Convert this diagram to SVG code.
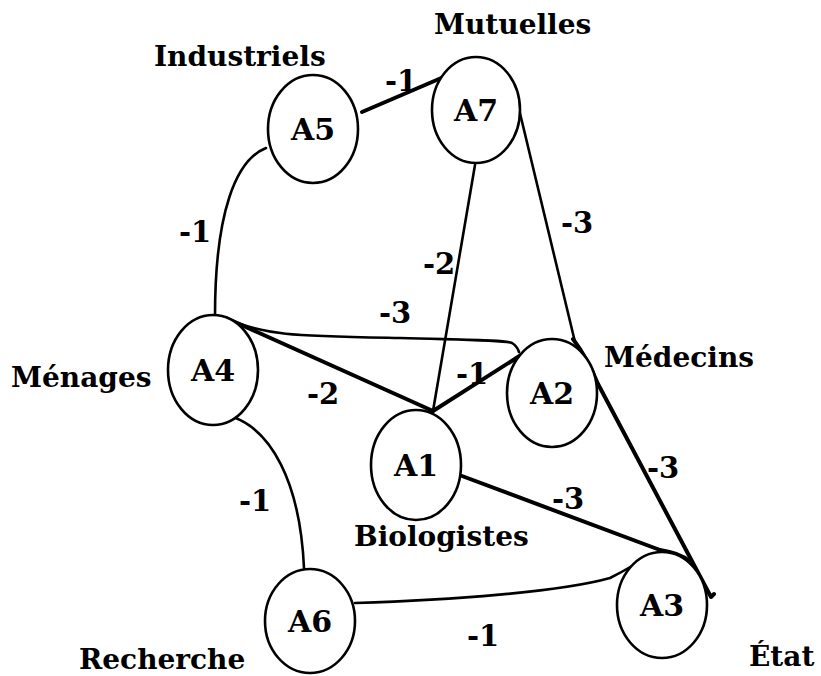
<svg xmlns="http://www.w3.org/2000/svg" width="821" height="676" viewBox="0 0 821 676">
  <style>
    .node ellipse { fill: #fff; stroke: #000; stroke-width: 2.6; }
    .node text, .w { font-family: "DejaVu Serif", "Liberation Serif", serif; font-weight: bold; font-size: 28px; fill: #000; }
    .node text.id { text-anchor: middle; font-size: 30px; }
    .w { font-size: 29px; }
    .edges path { fill: none; stroke: #000; stroke-width: 2.6; stroke-linecap: round; stroke-linejoin: round; }
    .edges path.thick { stroke-width: 4; }
  </style>
  <rect width="821" height="676" fill="#fff"/>

  <!-- connectors -->
  <g id="edges" class="edges">
    <path class="thick" d="M362,112 L446,76"/>
    <path d="M266,148 C236,160 215,212 215,316"/>
    <path d="M475,165 L433,411"/>
    <path d="M518,105 L575,342"/>
    <path d="M226,318 C262,336 300,336 400,338 C470,340 505,340 512,343 Q517,346 519,352"/>
    <path class="thick" d="M226,318 L433,411"/>
    <path class="thick" d="M433,411 L521,355"/>
    <path class="thick" d="M573,339 C585,355 593,372 598,384 L711,597 L714,594"/>
    <path class="thick" d="M462,476 L660,550 Q680,553 689,561"/>
    <path d="M355,603 C450,600 560,592 610,578 Q622,572 632,566"/>
    <path d="M233,417 C270,430 300,480 304,568"/>

    <!-- weights -->
    <text class="w" x="385" y="91">-1</text>
    <text class="w" x="179" y="242">-1</text>
    <text class="w" x="423" y="274">-2</text>
    <text class="w" x="561" y="233">-3</text>
    <text class="w" x="379" y="323">-3</text>
    <text class="w" x="307" y="404">-2</text>
    <text class="w" x="456" y="384">-1</text>
    <text class="w" x="647" y="478">-3</text>
    <text class="w" x="552" y="509">-3</text>
    <text class="w" x="467" y="646">-1</text>
    <text class="w" x="239" y="511">-1</text>
  </g>

  <!-- actors -->
  <g id="A5" class="node">
    <ellipse cx="313" cy="129" rx="45" ry="54"/>
    <text class="id" x="313" y="140">A5</text>
    <text x="154" y="66">Industriels</text>
  </g>
  <g id="A7" class="node">
    <ellipse cx="476" cy="110" rx="44" ry="53"/>
    <text class="id" x="476" y="121">A7</text>
    <text x="434" y="34">Mutuelles</text>
  </g>
  <g id="A4" class="node">
    <ellipse cx="213" cy="370" rx="45" ry="55"/>
    <text class="id" x="213" y="381">A4</text>
    <text x="11" y="387">Ménages</text>
  </g>
  <g id="A2" class="node">
    <ellipse cx="552" cy="393" rx="45" ry="54"/>
    <text class="id" x="552" y="404">A2</text>
    <text x="604" y="367">Médecins</text>
  </g>
  <g id="A1" class="node">
    <ellipse cx="416" cy="465" rx="45" ry="55"/>
    <text class="id" x="416" y="476">A1</text>
    <text x="354" y="546">Biologistes</text>
  </g>
  <g id="A3" class="node">
    <ellipse cx="662" cy="605" rx="45" ry="53"/>
    <text class="id" x="662" y="616">A3</text>
    <text x="749" y="666">État</text>
  </g>
  <g id="A6" class="node">
    <ellipse cx="310" cy="621" rx="45" ry="52"/>
    <text class="id" x="310" y="632">A6</text>
    <text x="79" y="669">Recherche</text>
  </g>
</svg>
